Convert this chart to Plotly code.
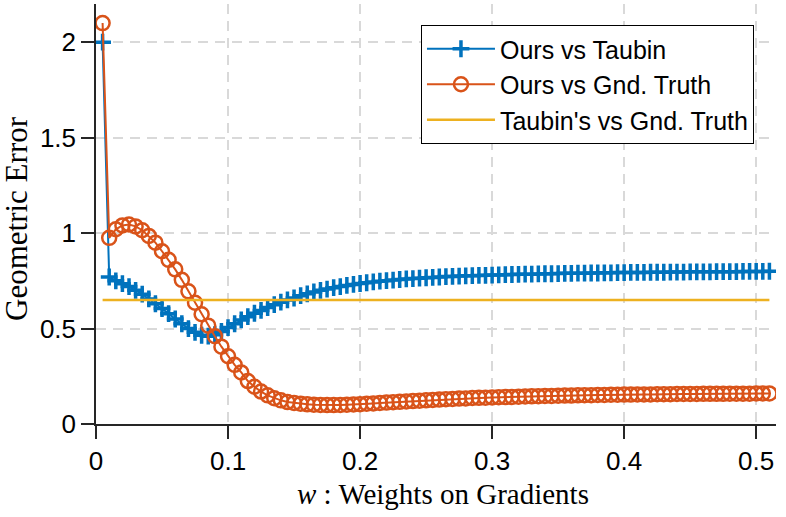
import plotly.graph_objects as go

w = [round(0.005 * i, 3) for i in range(1, 103)]

ours_vs_taubin = [
    2.0, 0.77, 0.75, 0.735, 0.72, 0.70, 0.68, 0.655, 0.63, 0.605,
    0.578, 0.55, 0.525, 0.50, 0.48, 0.465, 0.46, 0.468, 0.485, 0.505,
    0.525, 0.545, 0.562, 0.58, 0.595, 0.61, 0.625, 0.638, 0.65, 0.66,
    0.672, 0.682, 0.692, 0.70, 0.707, 0.714, 0.72, 0.726, 0.731, 0.736,
    0.740, 0.744, 0.748, 0.751, 0.754, 0.757, 0.760, 0.762, 0.764, 0.766,
    0.768, 0.770, 0.772, 0.773, 0.775, 0.776, 0.777, 0.778, 0.779, 0.780,
    0.781, 0.782, 0.783, 0.784, 0.785, 0.785, 0.786, 0.787, 0.787, 0.788,
    0.789, 0.789, 0.790, 0.790, 0.791, 0.791, 0.792, 0.792, 0.793, 0.793,
    0.794, 0.794, 0.794, 0.795, 0.795, 0.795, 0.796, 0.796, 0.796, 0.797,
    0.797, 0.797, 0.797, 0.798, 0.798, 0.798, 0.798, 0.799, 0.799, 0.799,
    0.799, 0.80,
]

ours_vs_truth = [
    2.10, 0.975, 1.02, 1.04, 1.045, 1.035, 1.015, 0.985, 0.95, 0.905,
    0.86, 0.81, 0.755, 0.695, 0.635, 0.575, 0.515, 0.46, 0.405, 0.355,
    0.31, 0.27, 0.225, 0.195, 0.17, 0.15, 0.135, 0.124, 0.115, 0.110,
    0.106, 0.103, 0.101, 0.100, 0.099, 0.099, 0.100, 0.101, 0.102, 0.104,
    0.106, 0.108, 0.110, 0.112, 0.114, 0.116, 0.118, 0.120, 0.122, 0.124,
    0.126, 0.128, 0.130, 0.131, 0.133, 0.134, 0.136, 0.137, 0.138, 0.139,
    0.140, 0.141, 0.142, 0.143, 0.144, 0.145, 0.146, 0.147, 0.147, 0.148,
    0.149, 0.149, 0.150, 0.151, 0.151, 0.152, 0.152, 0.153, 0.153, 0.154,
    0.154, 0.155, 0.155, 0.155, 0.156, 0.156, 0.156, 0.157, 0.157, 0.157,
    0.157, 0.158, 0.158, 0.158, 0.158, 0.159, 0.159, 0.159, 0.159, 0.160,
    0.160, 0.160,
]

taubin_vs_truth = [0.65] * len(w)

x_ticks = [0, 0.1, 0.2, 0.3, 0.4, 0.5]
x_ticktext = ["0", "0.1", "0.2", "0.3", "0.4", "0.5"]
y_ticks = [0, 0.5, 1, 1.5, 2]
y_ticktext = ["0", "0.5", "1", "1.5", "2"]

BLUE = "#0072BD"
ORANGE = "#D95319"
YELLOW = "#EDB120"
AXC = "#262626"
SANS = "Liberation Sans, Arial, sans-serif"
SERIF = "Liberation Serif, Times New Roman, serif"

fig = go.Figure()
fig.add_trace(go.Scatter(
    x=w, y=ours_vs_taubin, mode="lines+markers", name="Ours vs Taubin",
    line=dict(color=BLUE, width=2),
    marker=dict(symbol="cross-thin", size=12, color=BLUE,
                line=dict(color=BLUE, width=3.5)),
))
fig.add_trace(go.Scatter(
    x=w, y=ours_vs_truth, mode="lines+markers", name="Ours vs Gnd. Truth",
    line=dict(color=ORANGE, width=2),
    marker=dict(symbol="circle-open", size=14, color=ORANGE,
                line=dict(color=ORANGE, width=2.5)),
))
fig.add_trace(go.Scatter(
    x=w, y=taubin_vs_truth, mode="lines", name="Taubin's vs Gnd. Truth",
    line=dict(color=YELLOW, width=2.5),
))

axis_common = dict(
    showline=True, linecolor=AXC, linewidth=1.5,
    ticks="outside", ticklen=13, tickwidth=1.5, tickcolor=AXC,
    showgrid=True, gridcolor="#d9d9d9", gridwidth=1.5, griddash="10px,7px",
    zeroline=False, mirror=False,
    tickfont=dict(family=SANS, size=26, color="black"),
)

fig.update_layout(
    width=786, height=517,
    margin=dict(l=96, r=10, t=4, b=93),
    paper_bgcolor="white", plot_bgcolor="white",
    showlegend=True,
    legend=dict(
        x=0.9676, y=0.95, xanchor="right", yanchor="top",
        bgcolor="white", bordercolor="black", borderwidth=1,
        font=dict(family=SANS, size=25, color="black"),
        itemwidth=68, tracegroupgap=0,
    ),
    xaxis=dict(range=[0, 0.515], tickvals=x_ticks, ticktext=x_ticktext, **axis_common),
    yaxis=dict(range=[0, 2.2], tickvals=y_ticks, ticktext=y_ticktext, **axis_common),
    annotations=[
        dict(text="<i>w</i> : Weights on Gradients", xref="paper", yref="paper",
             x=0.51, y=-0.167, xanchor="center", yanchor="middle", showarrow=False,
             font=dict(family=SERIF, size=29, color="black")),
        dict(text="Geometric Error", xref="paper", yref="paper",
             x=-0.118, y=0.49, xanchor="center", yanchor="middle", showarrow=False,
             textangle=-90, font=dict(family=SERIF, size=31, color="black")),
    ],
)

fig.write_html("out.html")
